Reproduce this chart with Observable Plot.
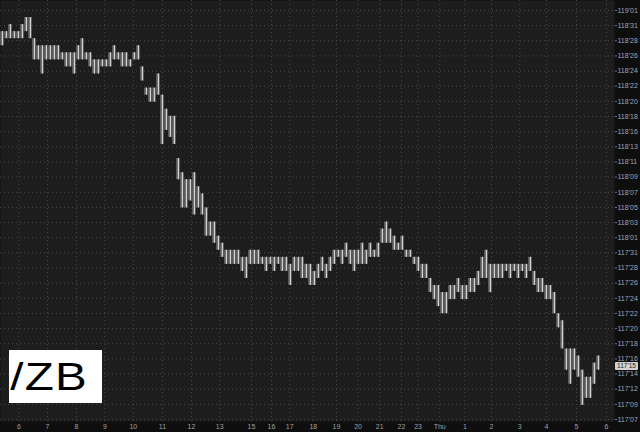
<!DOCTYPE html>
<html><head><meta charset="utf-8">
<script src="https://cdn.jsdelivr.net/npm/d3@7"></script>
<script src="https://cdn.jsdelivr.net/npm/@observablehq/plot@0.6"></script>
<style>
body{margin:0;background:#0e0e0e;}
#wrap{position:relative;width:640px;height:432px;overflow:hidden;}
#sym{position:absolute;left:9px;top:350px;width:93px;height:53px;background:#fff;overflow:hidden;}
#sym span{display:inline-block;color:#000;font-family:"Liberation Sans",Arial,sans-serif;font-size:39px;letter-spacing:1px;line-height:54px;padding-left:1px;transform:scaleX(1.22);transform-origin:0 50%;}
</style></head><body>
<div id="wrap"><div id="chart"></div><div id="sym"><span>/ZB</span></div></div>
<script>
// Bar highs / lows in 32nds above 117'00 (one bar per slot)
const highs = [62,62,63,62,62,63,64,64,61,60, 60,60,60,60,60,59,59,59,59,60,
  61,59,59,58,58,58,58,59,60,59, 59,59,58,59,60,57,54,54,54,56,
  53,51,50,50,44,42,41,41,42,40, 39,37,35,35,33,32,31,31,31,31,
  30,30,31,31,31,30,30,30,30,30, 30,30,29,30,30,30,29,29,28,29,
  30,29,30,31,31,31,32,31,31,31, 32,31,32,31,32,34,35,34,33,32,
  33,31,31,30,30,29,29,27,26,26, 25,25,26,26,27,26,26,27,27,28,
  30,31,29,29,29,29,29,29,29,29, 29,29,30,28,27,27,26,26,25,22,
  21,17,17,17,16,14,13,13,15,16];
const lows = [60,61,61,61,61,61,62,61,58,58, 56,58,58,58,58,58,57,57,56,58,
  58,58,57,56,56,57,57,57,58,58, 57,57,57,58,58,55,53,52,52,53,
  46,48,47,46,41,37,37,38,36,37, 36,33,33,32,31,30,29,29,29,29,
  28,27,29,29,29,29,28,29,28,29, 28,28,26,28,28,27,27,26,26,27,
  28,27,28,29,30,29,30,29,28,29, 29,29,30,30,30,32,32,32,31,31,
  31,30,30,29,28,27,27,25,24,23, 22,22,24,24,25,24,24,25,25,26,
  27,27,25,27,27,27,28,27,28,27, 28,27,28,26,25,25,24,24,22,20,
  17,14,12,14,13,9,10,10,12,14];
const lastLabel = "117'15";
const lastBetween = ["117'16", "117'14"];   // last price sits between these axis labels

// Price axis labels (top to bottom), evenly spaced from 119'01 (65) to 117'07 (7)
const yTickLabels = ["119'01","118'31","118'28","118'26","118'24","118'22","118'20","118'18","118'16","118'13",
  "118'11","118'09","118'07","118'05","118'03","118'01","117'31","117'28","117'26","117'24",
  "117'22","117'20","117'18","117'16","117'14","117'12","117'09","117'07"];
const yTopValue = 65, yBottomValue = 7;

// Time axis labels and the bar slot where each falls
const xTickLabels = ["6","7","8","9","10","11","12","13","15","16","17","18","19","20","21","22","23","Thu","1","2","3","4","5","6"];
const xTickSlots = [4.1,11.25,18.5,25.6,32.7,40,47.25,54.3,62.25,67.25,71.8,77.7,83.5,88.9,94.3,99.75,103.9,109.3,115.6,122.25,129.3,136,143.5,151];

const bars = highs.map((h, i) => ({i, hi: h, lo: lows[i]}));
const step = (yTopValue - yBottomValue) / (yTickLabels.length - 1);
const yTicks = yTickLabels.map((_, k) => yTopValue - k * step);
const yLabelOf = new Map(yTicks.map((v, k) => [v, yTickLabels[k]]));
const xLabelOf = new Map(xTickSlots.map((v, k) => [v, xTickLabels[k]]));
const lastY = (yTicks[yTickLabels.indexOf(lastBetween[0])] + yTicks[yTickLabels.indexOf(lastBetween[1])]) / 2;

// vertical mapping: top label 10px below top, bottom label 2px above the time strip
const H = 432, MB = 11;
const pxPerUnit = (H - MB - 12) / (yTopValue - yBottomValue);

const priceBox = (index, scales, values, dims) => {
  const g = d3.create("svg:g");
  const y = scales.y(lastY);
  const x0 = dims.width - dims.marginRight + 1;
  g.append("rect").attr("x", x0).attr("y", y - 4).attr("width", 23).attr("height", 8)
    .attr("fill", "#d2d2d2").attr("rx", 1);
  g.append("text").attr("x", x0 + 11.5).attr("y", y).attr("dy", "0.35em")
    .attr("text-anchor", "middle").attr("font-size", 6.5).attr("fill", "#222")
    .attr("font-family", "Liberation Sans, Arial, sans-serif").text(lastLabel);
  return g.node();
};

const chart = Plot.plot({
  width: 640, height: H,
  marginLeft: 0, marginRight: 26, marginTop: 0, marginBottom: MB,
  style: {background: "#0e0e0e", fontFamily: "Liberation Sans, Arial, sans-serif"},
  x: {domain: [-0.5, 153]},
  y: {domain: [yBottomValue - 2 / pxPerUnit, yTopValue + 10 / pxPerUnit]},
  marks: [
    Plot.frame({fill: "#1d1d1d", stroke: "none"}),
    Plot.gridY(yTicks, {stroke: "#474747", strokeOpacity: 1, strokeDasharray: "1,3"}),
    Plot.gridX(xTickSlots, {stroke: "#474747", strokeOpacity: 1, strokeDasharray: "1,3"}),
    Plot.rect(bars, {x1: d => d.i - 0.42, x2: d => d.i + 0.42, y1: "lo", y2: "hi", fill: "#737373"}),
    Plot.ruleX(bars, {x: "i", y1: "lo", y2: "hi", stroke: "#d0d0d0", strokeWidth: 1}),
    Plot.axisY(yTicks, {anchor: "right", tickSize: 2, tickPadding: 1, fontSize: 7, fill: "#9aa6b6", stroke: "#777",
      tickFormat: d => yLabelOf.get(d), label: null}),
    Plot.axisX(xTickSlots, {anchor: "bottom", tickSize: 0, tickPadding: 3, fontSize: 7, fill: "#a0a0a0",
      tickFormat: d => xLabelOf.get(d), label: null}),
    priceBox
  ]
});
document.getElementById("chart").append(chart);
</script>
</body></html>
